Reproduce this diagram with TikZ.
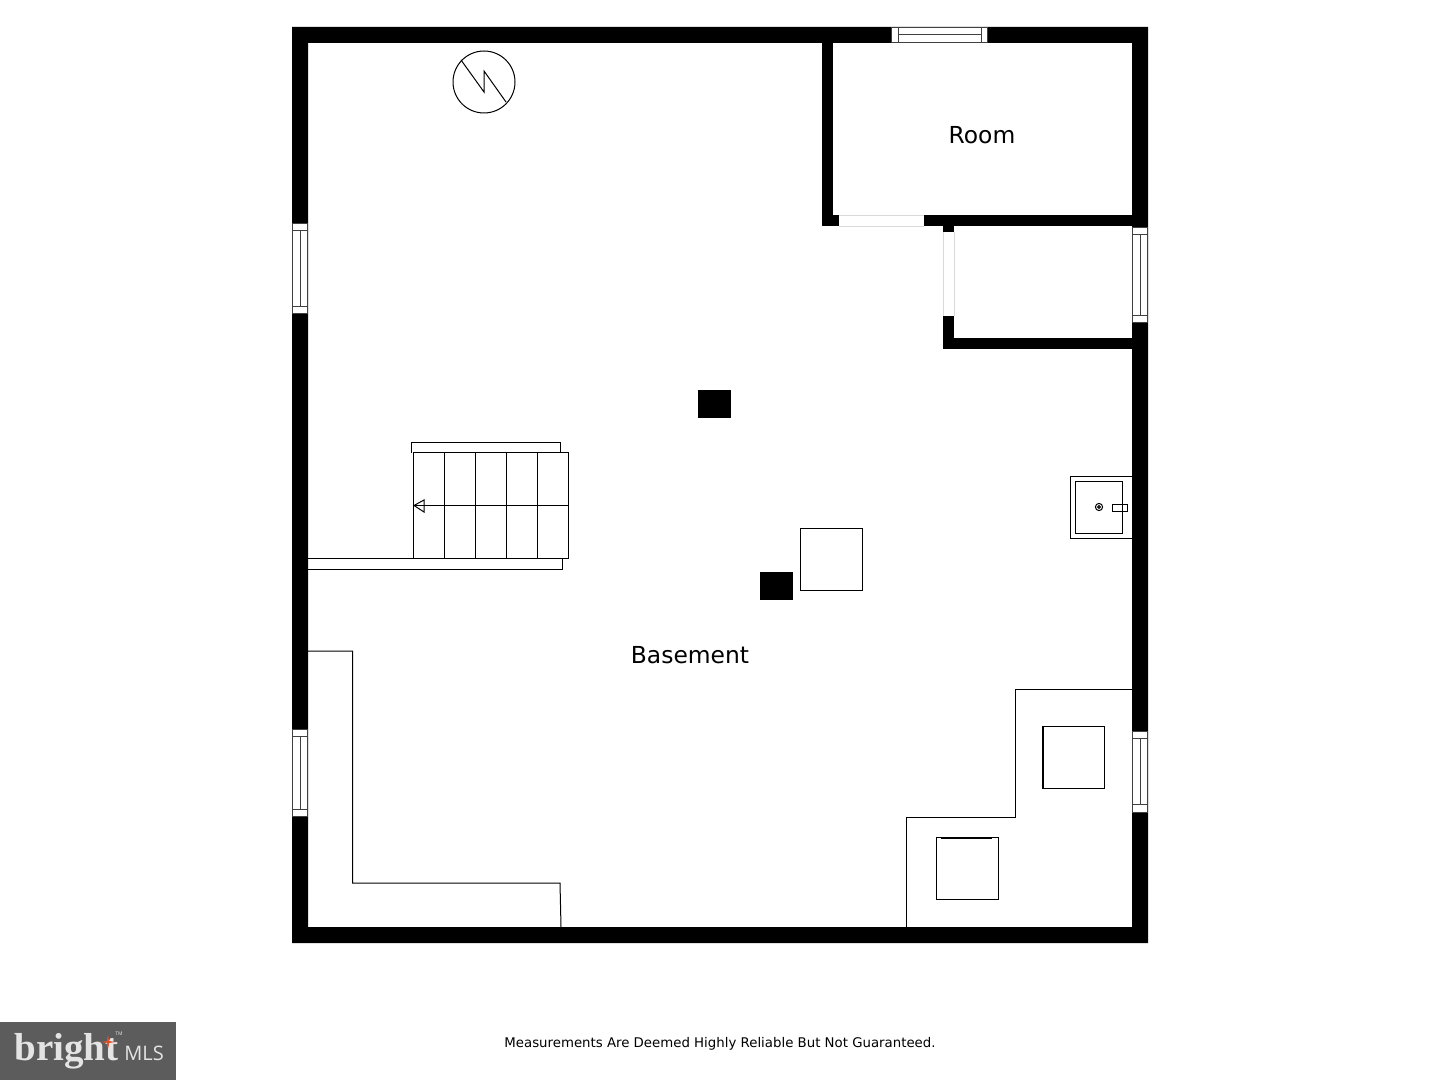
\documentclass[tikz,border=0pt]{standalone}
\usepackage{fontspec}
\setmainfont{DejaVu Sans}
\newfontfamily\logoserif{Liberation Serif}
\newfontfamily\logosans{Open Sans}
\definecolor{logogrey}{HTML}{5C5C5C}
\definecolor{logotext}{HTML}{E4E4E4}
\definecolor{logored}{HTML}{D9532C}
\tikzset{
  wall/.style={fill=black,draw=none},
  thin line/.style={draw=black,line width=0.5pt},
  winframe/.style={fill=white,draw=black!75,line width=0.5pt},
  winline/.style={draw=black!75,line width=0.5pt},
  roomlabel/.style={font=\fontsize{11.7}{14}\selectfont,text=black,inner sep=0pt},
}
\begin{document}
\begin{tikzpicture}[x=0.5pt,y=-0.5pt]
\useasboundingbox (0,0) rectangle (1440,1080);
% outer walls
\fill[wall,even odd rule] (292,27) rectangle (1148,943) (308,43) rectangle (1132,927);
% interior walls
\fill[wall] (822,43) rectangle (833,226);
\fill[wall] (822,215) rectangle (839,226);
\fill[wall] (924,215) rectangle (1132,226);
\fill[wall] (943,226) rectangle (954,232);
\fill[wall] (943,316) rectangle (954,349);
\fill[wall] (943,338) rectangle (1132,349);
% interior openings
\draw[black!15,line width=0.4pt] (839,215) -- (924,215) (839,226) -- (924,226);
\draw[black!15,line width=0.4pt] (943,232) -- (943,316) (954,232) -- (954,316);
% windows
\draw[winframe] (891.5,27.5) rectangle (987.5,43);
\draw[winline] (898,27.5) -- (898,43) (981,27.5) -- (981,43) (898,35) -- (981,35);
\draw[winframe] (292.5,224) rectangle (307.7,314);
\draw[winline] (292.5,231) -- (307.7,231) (292.5,307) -- (307.7,307) (300,231) -- (300,307);
\draw[winframe] (292.5,729) rectangle (307.7,816);
\draw[winline] (292.5,736) -- (307.7,736) (292.5,809) -- (307.7,809) (300,736) -- (300,809);
\draw[winframe] (1132.3,228) rectangle (1147.7,323);
\draw[winline] (1132.3,235) -- (1147.7,235) (1132.3,316) -- (1147.7,316) (1140,235) -- (1140,316);
\draw[winframe] (1132.3,731) rectangle (1147.7,812);
\draw[winline] (1132.3,738) -- (1147.7,738) (1132.3,804) -- (1147.7,804) (1140,738) -- (1140,804);
% panel symbol
\draw[thin line] (484,82) circle[radius=31];
\draw[thin line] (461,60) -- (484,92) -- (484,71) -- (506,102);
% stairs
\draw[thin line] (411,453) -- (411,443) -- (560,443) -- (560,453);
\draw[thin line] (308,569) -- (562,569) -- (562,558);
\draw[thin line] (308,558) -- (413,558);
\draw[thin line] (413,453) rectangle (568,558);
\draw[thin line] (444,453) -- (444,558) (475,453) -- (475,558) (506,453) -- (506,558) (537,453) -- (537,558);
\draw[thin line] (568,505.5) -- (414,505.5);
\draw[thin line] (424,500) -- (414,505.5) -- (424,512) -- cycle;
% columns
\fill[wall] (698,390) rectangle (731,418);
\fill[wall] (760,572) rectangle (793,600);
% boxes
\draw[thin line] (800,528) rectangle (862,590);
\draw[thin line] (1132,476) -- (1070,476) -- (1070,538) -- (1132,538);
\draw[thin line] (1075,481) rectangle (1122,533);
\draw[thin line] (1099,507) circle[radius=3.6];
\draw[thin line] (1099,507) circle[radius=1.4];
\draw[thin line] (1112,504) rectangle (1127,511);
% raised areas
\draw[thin line] (308,651) -- (352.5,651) -- (352.5,883) -- (560,883) -- (561,927);
\draw[thin line] (906,927) -- (906,817) -- (1015,817) -- (1015,689) -- (1132,689);
\draw[thin line] (1042,726) rectangle (1104,788);
\draw[black,line width=1pt] (1042.5,726) -- (1042.5,788);
\draw[thin line] (936,837) rectangle (998,899);
\draw[black,line width=1pt] (941,838) -- (992,838);
% labels
\node[roomlabel] (room) at (982,135) {Room};
\node[roomlabel] (basement) at (690,655) {Basement};
\node[font=\fontsize{6.66}{8}\selectfont,text=black,inner sep=0pt] (note) at (720,1044) {Measurements Are Deemed Highly Reliable But Not Guaranteed.};
% logo
\fill[logogrey] (0,1022) rectangle (176,1080);
\node[font=\logoserif\bfseries\fontsize{19.5}{24}\selectfont,text=logotext,inner sep=0pt,anchor=base west] (brightword) at (14,1060) {bright};
\node[font=\logosans\fontsize{10}{11}\selectfont,text=logotext,inner sep=0pt,anchor=base west] (mls) at (124,1060) {MLS};
\node[font=\logosans\fontsize{2.5}{3}\selectfont,text=logotext,inner sep=0pt] (tm) at (119,1034) {TM};
\fill[logored] (108,1035) -- (109.2,1041) -- (115,1042) -- (109.2,1043) -- (108,1049) -- (106.8,1043) -- (101,1042) -- (106.8,1041) -- cycle;
\end{tikzpicture}
\end{document}
